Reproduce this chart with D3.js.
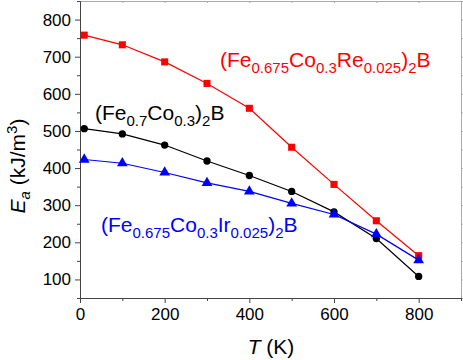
<!DOCTYPE html>
<html>
<head>
<meta charset="utf-8">
<script src="https://cdn.jsdelivr.net/npm/d3@7"></script>
<style>
  body { margin: 0; background: #fff; }
  svg text { font-family: "Liberation Sans", Arial, sans-serif; }
</style>
</head>
<body>
<script>
// temperatures (K)
var temps = [10, 100, 200, 300, 400, 500, 600, 700, 800];
// anisotropy energy, kJ/m^3
var reValues = [758, 732, 686, 628, 561, 456, 356, 258, 164];
var coValues = [506, 492, 462, 419, 380, 337, 282, 210, 108];
var irValues = [423, 413, 388, 360, 337, 305, 275, 222, 152];

var xTicks = [0, 200, 400, 600, 800];
var xMinor = [100, 300, 500, 700, 900];
var yTicks = [100, 200, 300, 400, 500, 600, 700, 800];
var yMinor = [50, 150, 250, 350, 450, 550, 650, 750, 850];

var W = 463, H = 360;
var padL = 80, padR = 461, padT = 1, padB = 298;

var svg = d3.select("body").append("svg")
  .attr("width", W)
  .attr("height", H);

var x = d3.scaleLinear().domain([0, 900]).range([padL, padR]);
var y = d3.scaleLinear().domain([50, 850]).range([padB, padT]);

// frame: top and right in light gray
svg.append("g").attr("transform", "translate(0," + padT + ")")
  .call(d3.axisBottom(x).tickValues(xTicks.concat(xMinor)).tickSize(2).tickSizeOuter(0).tickFormat(""))
  .call(function (g) { g.selectAll("path,line").attr("stroke", "#aaa"); });
svg.append("g").attr("transform", "translate(" + padR + ",0)")
  .call(d3.axisRight(y).tickValues(yTicks.concat(yMinor)).tickSize(3).tickSizeOuter(0).tickFormat(""))
  .call(function (g) { g.selectAll("path,line").attr("stroke", "#aaa"); });

// bottom axis
svg.append("g").attr("transform", "translate(0," + padB + ")")
  .call(d3.axisBottom(x).tickValues(xMinor).tickSize(3).tickSizeOuter(0).tickFormat(""))
  .call(function (g) { g.selectAll("path,line").attr("stroke", "#444"); });
svg.append("g").attr("transform", "translate(0," + padB + ")")
  .call(d3.axisBottom(x).tickValues(xTicks).tickSize(5).tickSizeOuter(0).tickPadding(5))
  .call(function (g) {
    g.selectAll("path,line").attr("stroke", "#444");
    g.selectAll("text").attr("font-size", 17).attr("fill", "#000")
      .attr("font-family", "Liberation Sans, Arial, sans-serif");
  });

// left axis
svg.append("g").attr("transform", "translate(" + padL + ",0)")
  .call(d3.axisLeft(y).tickValues(yMinor).tickSize(3).tickSizeOuter(0).tickFormat(""))
  .call(function (g) { g.selectAll("path,line").attr("stroke", "#444"); });
svg.append("g").attr("transform", "translate(" + padL + ",0)")
  .call(d3.axisLeft(y).tickValues(yTicks).tickSize(5).tickSizeOuter(0).tickPadding(4))
  .call(function (g) {
    g.selectAll("path,line").attr("stroke", "#444");
    g.selectAll("text").attr("font-size", 17).attr("fill", "#000")
      .attr("font-family", "Liberation Sans, Arial, sans-serif");
  });

// series
var series = [
  { vals: reValues, color: "#ff0000", shape: d3.symbolSquare, size: 50 },
  { vals: coValues, color: "#000000", shape: d3.symbolCircle, size: 42 },
  { vals: irValues, color: "#0000ff", shape: d3.symbolTriangle, size: 50 }
];

var line = d3.line()
  .x(function (d) { return x(d.t); })
  .y(function (d) { return y(d.v); });

series.forEach(function (s) {
  var pts = temps.map(function (t, i) { return { t: t, v: s.vals[i] }; });
  svg.append("path")
    .datum(pts)
    .attr("d", line)
    .attr("fill", "none")
    .attr("stroke", s.color)
    .attr("stroke-width", 1.2);
  svg.selectAll(null)
    .data(pts)
    .enter()
    .append("path")
    .attr("d", d3.symbol().type(s.shape).size(s.size))
    .attr("transform", function (d) { return "translate(" + x(d.t) + "," + y(d.v) + ")"; })
    .attr("fill", s.color);
});

// labels with subscripts
function formula(px, py, color, parts) {
  var t = svg.append("text")
    .attr("x", px).attr("y", py)
    .attr("fill", color)
    .attr("font-size", 21);
  var down = false;
  parts.forEach(function (p) {
    var sp = t.append("tspan").text(p[0]);
    if (p[1] && !down) { sp.attr("dy", 6).attr("font-size", 15); down = true; }
    else if (p[1]) { sp.attr("font-size", 15); }
    else if (down) { sp.attr("dy", -6); down = false; }
  });
}

formula(220, 67, "#ff0000", [["(Fe"], ["0.675", 1], ["Co"], ["0.3", 1], ["Re"], ["0.025", 1], [")"], ["2", 1], ["B"]]);
formula(95, 120, "#000000", [["(Fe"], ["0.7", 1], ["Co"], ["0.3", 1], [")"], ["2", 1], ["B"]]);
formula(101, 232, "#0000ff", [["(Fe"], ["0.675", 1], ["Co"], ["0.3", 1], ["Ir"], ["0.025", 1], [")"], ["2", 1], ["B"]]);

// axis titles
var xt = svg.append("text")
  .attr("x", 271).attr("y", 354)
  .attr("text-anchor", "middle")
  .attr("font-size", 21);
xt.append("tspan").attr("font-style", "italic").text("T");
xt.append("tspan").text(" (K)");

var yt = svg.append("text")
  .attr("transform", "translate(25,166) rotate(-90)")
  .attr("text-anchor", "middle")
  .attr("font-size", 21);
yt.append("tspan").attr("font-style", "italic").text("E");
yt.append("tspan").attr("font-style", "italic").attr("font-size", 15).attr("dy", 5).text("a");
yt.append("tspan").attr("dy", -5).text(" (kJ/m");
yt.append("tspan").attr("font-size", 15).attr("dy", -8).text("3");
yt.append("tspan").attr("dy", 8).text(")");
</script>
</body>
</html>
